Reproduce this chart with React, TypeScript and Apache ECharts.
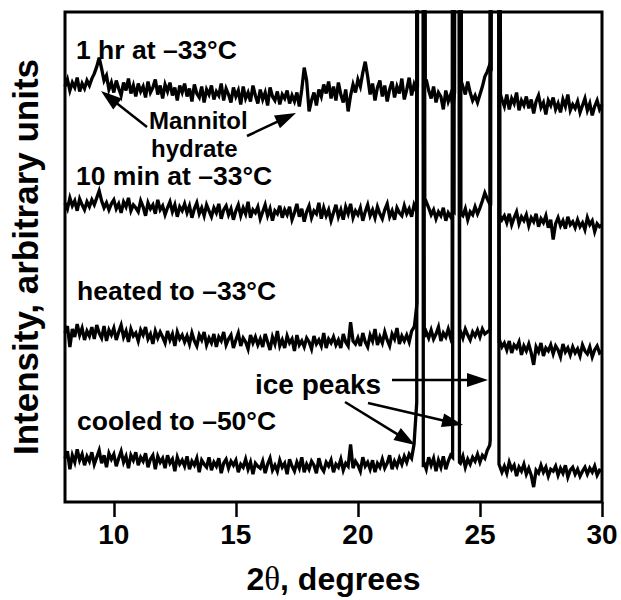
import React, { useEffect, useRef } from "react";
import * as echarts from "echarts";

// 2θ grid (degrees), one row per degree
const twoTheta = [
  8.0, 8.1, 8.2, 8.3, 8.4, 8.5, 8.6, 8.7, 8.8, 8.9,
  9.0, 9.1, 9.2, 9.3, 9.4, 9.5, 9.6, 9.7, 9.8, 9.9,
  10.0, 10.1, 10.2, 10.3, 10.4, 10.5, 10.6, 10.7, 10.8, 10.9,
  11.0, 11.1, 11.2, 11.3, 11.4, 11.5, 11.6, 11.7, 11.8, 11.9,
  12.0, 12.1, 12.2, 12.3, 12.4, 12.5, 12.6, 12.7, 12.8, 12.9,
  13.0, 13.1, 13.2, 13.3, 13.4, 13.5, 13.6, 13.7, 13.8, 13.9,
  14.0, 14.1, 14.2, 14.3, 14.4, 14.5, 14.6, 14.7, 14.8, 14.9,
  15.0, 15.1, 15.2, 15.3, 15.4, 15.5, 15.6, 15.7, 15.8, 15.9,
  16.0, 16.1, 16.2, 16.3, 16.4, 16.5, 16.6, 16.7, 16.8, 16.9,
  17.0, 17.1, 17.2, 17.3, 17.4, 17.5, 17.6, 17.7, 17.8, 17.9,
  18.0, 18.1, 18.2, 18.3, 18.4, 18.5, 18.6, 18.7, 18.8, 18.9,
  19.0, 19.1, 19.2, 19.3, 19.4, 19.5, 19.6, 19.7, 19.8, 19.9,
  20.0, 20.1, 20.2, 20.3, 20.4, 20.5, 20.6, 20.7, 20.8, 20.9,
  21.0, 21.1, 21.2, 21.3, 21.4, 21.5, 21.6, 21.7, 21.8, 21.9,
  22.0, 22.1, 22.2, 22.3, 22.4, 22.5, 22.6, 22.7, 22.8, 22.9,
  23.0, 23.1, 23.2, 23.3, 23.4, 23.5, 23.6, 23.7, 23.8, 23.9,
  24.0, 24.1, 24.2, 24.3, 24.4, 24.5, 24.6, 24.7, 24.8, 24.9,
  25.0, 25.1, 25.2, 25.3, 25.4, 25.5, 25.6, 25.7, 25.8, 25.9,
  26.0, 26.1, 26.2, 26.3, 26.4, 26.5, 26.6, 26.7, 26.8, 26.9,
  27.0, 27.1, 27.2, 27.3, 27.4, 27.5, 27.6, 27.7, 27.8, 27.9,
  28.0, 28.1, 28.2, 28.3, 28.4, 28.5, 28.6, 28.7, 28.8, 28.9,
  29.0, 29.1, 29.2, 29.3, 29.4, 29.5, 29.6, 29.7, 29.8, 29.9,
  30.0,
];

// Intensities (arbitrary units, traces offset vertically); null = inside an ice peak
const hr1 = [
  418, 425, 414, 422, 417, 427, 413, 421, 416, 424,
  419, 426, 431, 438, 447, 436, 424, 429, 415, 422,
  412, 424, 416, 409, 422, 414, 426, 411, 419, 408,
  421, 413, 418, 407, 423, 412, 417, 425, 410, 419,
  406, 420, 413, 422, 409, 417, 404, 419, 412, 421,
  408, 416, 403, 420, 411, 407, 418, 402, 415, 410,
  419, 405, 413, 409, 421, 404, 416, 410, 402, 417,
  408, 414, 400, 418, 406, 412, 403, 419, 409, 401,
  415, 405, 412, 399, 417, 408, 404, 413, 400, 410,
  406, 414, 401, 409, 403, 412, 398, 415, 437, 424,
  393, 404, 412, 399, 415, 408, 420, 411, 423, 406,
  418, 404, 422, 410, 402, 415, 393, 409, 420, 412,
  425, 418, 432, 443, 428, 410, 421, 404, 417, 424,
  408, 419, 403, 415, 423, 407, 418, 411, 426, 405,
  415, 427, 409, 420, 413, null, null, null, 425, 414,
  406, 418, 402, 412, 408, 395, 414, 403, 410, 398,
  null, null, null, 418, 410, 423, 412, 404, 409, 402,
  410, 418, 428, 433, 440, null, null, null, null, 405,
  398, 410, 395, 406, 401, 412, 394, 404, 399, 408,
  396, 405, 391, 403, 409, 397, 402, 390, 404, 399,
  407, 395, 401, 392, 405, 398, 410, 394, 400, 396,
  403, 392, 399, 406, 394, 401, 389, 398, 404, 395,
  400,
];
const min10 = [
  301, 295, 306, 298, 303, 293, 305, 299, 294, 302,
  297, 304, 299, 306, 313, 303, 296, 301, 294, 300,
  304, 295, 300, 291, 302, 297, 306, 293, 299, 296,
  292, 303, 297, 288, 301, 295, 299, 290, 304, 294,
  298, 289, 296, 302, 292, 299, 287, 297, 293, 300,
  291, 298, 286, 295, 301, 290, 296, 288, 299, 293,
  287, 296, 291, 300, 285, 294, 298, 289, 295, 284,
  293, 299, 288, 296, 290, 302, 286, 294, 291, 297,
  285, 292, 299, 288, 295, 283, 293, 290, 298, 286,
  294, 289, 297, 284, 291, 300, 287, 295, 282, 292,
  298, 286, 293, 290, 301, 285, 296, 288, 294, 283,
  291, 299, 287, 294, 284, 297, 290, 300, 286, 293,
  289, 296, 283, 292, 299, 288, 294, 286, 297, 290,
  285, 294, 300, 287, 293, 284, 296, 291, 288, 298,
  290, 295, 287, 299, 293, null, null, null, 302, 296,
  289, 294, 285, 292, 288, 296, 283, 291, 287, 293,
  null, null, null, 288, 295, 284, 292, 289, 297, 290,
  296, 303, 311, 305, 300, null, null, null, null, 284,
  288, 281, 290, 279, 286, 292, 280, 287, 283, 289,
  278, 286, 282, 290, 277, 285, 281, 288, 276, 284,
  264, 280, 286, 278, 283, 275, 287, 279, 282, 276,
  284, 277, 281, 274, 286, 279, 283, 272, 280, 277,
  279,
];
const heated = [
  170, 177, 156, 174, 166, 179, 168, 175, 163, 172,
  167, 176, 164, 178, 170, 165, 177, 162, 173, 168,
  175, 163, 171, 178, 166, 172, 161, 174, 167, 170,
  162, 173, 168, 176, 164, 169, 159, 172, 165, 171,
  166, 160, 172, 163, 169, 157, 171, 164, 168, 161,
  167, 159, 170, 162, 157, 168, 163, 171, 158, 165,
  160, 169, 156, 166, 162, 171, 158, 164, 168, 155,
  163, 170, 157, 165, 161, 154, 168, 160, 166, 158,
  164, 156, 169, 161, 153, 166, 159, 172, 157, 163,
  155, 167, 160, 164, 152, 168, 158, 162, 156, 165,
  161, 154, 167, 159, 163, 157, 170, 155, 164, 160,
  166, 158, 163, 155, 169, 161, 157, 181, 162, 159,
  165, 157, 170, 161, 156, 168, 162, 174, 158, 166,
  160, 171, 163, 157, 169, 164, 175, 159, 167, 162,
  168, 161, 172, 176, null, null, null, null, 171, 165,
  173, 164, 169, 176, 162, 170, 166, 174, 165, null,
  null, null, 172, 165, 174, 168, 163, 171, 167, 173,
  166, 174, 169, 171, 173, null, null, null, 163, 156,
  160, 153, 162, 150, 158, 155, 161, 148, 157, 152,
  159, 150, 138, 156, 151, 160, 147, 155, 152, 158,
  149, 157, 153, 146, 159, 151, 155, 148, 156, 150,
  154, 147, 158, 152, 149, 156, 146, 153, 157, 150,
  152,
];
const cooled = [
  44, 51, 33, 47, 40, 53, 42, 48, 37, 46,
  41, 50, 38, 45, 52, 39, 47, 35, 49, 43,
  48, 36, 44, 51, 40, 46, 34, 47, 42, 50,
  37, 45, 41, 49, 35, 43, 47, 33, 46, 40,
  44, 34, 47, 39, 43, 31, 45, 38, 42, 36,
  46, 33, 41, 37, 44, 30, 42, 38, 35, 45,
  32, 40, 36, 44, 29, 39, 43, 34, 41, 37,
  42, 30, 38, 35, 43, 33, 40, 28, 39, 36,
  34, 41, 29, 38, 44, 32, 37, 31, 42, 35,
  39, 28, 43, 36, 31, 40, 34, 45, 30, 38,
  33, 41, 37, 29, 44, 35, 31, 40, 36, 42,
  30, 38, 35, 43, 32, 39, 36, 58, 34, 41,
  37, 31, 45, 36, 40, 33, 42, 30, 39, 35,
  43, 34, 39, 47, 33, 41, 36, 44, 38, 46,
  40, 48, 44, 58, null, null, null, 40, 33, 45,
  37, 44, 31, 42, 35, 46, 33, 41, 47, null,
  null, null, 39, 46, 35, 43, 38, 45, 41, 48,
  40, 47, 44, 52, 57, null, null, null, 38, 30,
  36, 29, 40, 33, 37, 26, 35, 31, 38, 28,
  34, 27, 15, 32, 29, 37, 30, 35, 26, 33,
  31, 36, 27, 34, 29, 37, 25, 32, 35, 28,
  33, 26, 31, 35, 28, 34, 30, 36, 27, 32,
  31,
];

// Ice peaks ([2θ, intensity]); they run far off the top of the scale
const hr1Peaks = [
  [[22.44, 418], [22.52, 3000], [22.68, 3000], [22.76, 420]],
  [[23.96, 412], [24.03, 3000], [24.16, 3000], [24.24, 415]],
  [[25.46, 438], [25.53, 3000], [25.72, 3000], [25.84, 410]],
];
const min10Peaks = [
  [[22.41, 295], [22.49, 3000], [22.66, 3000], [22.74, 300]],
  [[23.94, 292], [24.0, 3000], [24.14, 3000], [24.22, 290]],
  [[25.44, 300], [25.5, 3000], [25.7, 3000], [25.82, 288]],
];
const heatedPeaks = [
  [[22.32, 178], [22.42, 200], [22.47, 3000], [22.63, 3000], [22.72, 166]],
  [[23.86, 170], [23.93, 3000], [24.1, 3000], [24.17, 168]],
  [[25.41, 175], [25.46, 3000], [25.72, 3000], [25.79, 160]],
];
const cooledPeaks = [
  [[22.32, 66], [22.41, 100], [22.46, 3000], [22.62, 3000], [22.68, 35]],
  [[23.88, 45], [23.94, 3000], [24.08, 3000], [24.16, 40]],
  [[25.42, 62], [25.47, 3000], [25.7, 3000], [25.78, 38]],
];

const xTicks = [10, 15, 20, 25, 30];

const traceLabels = [
  "1 hr at \u201333\u00b0C",
  "10 min at \u201333\u00b0C",
  "heated to \u201333\u00b0C",
  "cooled to \u201350\u00b0C",
];

function build(vals: (number | null)[], peaks: number[][][]) {
  const pts: number[][] = [];
  twoTheta.forEach((x, i) => {
    const v = vals[i];
    if (v === null || v === undefined) return;
    if (peaks.some((p) => x > p[0][0] && x < p[p.length - 1][0])) return;
    pts.push([x, v]);
  });
  peaks.forEach((p) => p.forEach((q) => pts.push(q)));
  pts.sort((a, b) => a[0] - b[0]);
  return pts;
}

const FONT = "Liberation Sans, Arial, Helvetica, sans-serif";

function arrow(x1: number, y1: number, x2: number, y2: number) {
  const dx = x2 - x1;
  const dy = y2 - y1;
  const len = Math.sqrt(dx * dx + dy * dy);
  const ux = dx / len;
  const uy = dy / len;
  const hl = 21;
  const hw = 7;
  const bx = x2 - ux * hl;
  const by = y2 - uy * hl;
  return [
    {
      type: "line",
      shape: { x1, y1, x2: bx + ux * 3, y2: by + uy * 3 },
      style: { stroke: "#000", lineWidth: 2.5 },
      silent: true,
      z: 100,
    },
    {
      type: "polygon",
      shape: {
        points: [
          [x2, y2],
          [bx - uy * hw, by + ux * hw],
          [bx + uy * hw, by - ux * hw],
        ],
      },
      style: { fill: "#000" },
      silent: true,
      z: 100,
    },
  ];
}

function label(text: string, x: number, y: number, size = 26.5) {
  return {
    type: "text",
    x,
    y,
    z: 100,
    silent: true,
    style: {
      text,
      fill: "#000",
      font: `bold ${size}px ${FONT}`,
      align: "left",
      verticalAlign: "middle",
    },
  };
}

export default function App() {
  const ref = useRef<HTMLDivElement>(null);
  useEffect(() => {
    if (!ref.current) return;
    const chart = echarts.init(ref.current, null, { renderer: "svg" });
    const seriesData = [
      { name: traceLabels[0], data: build(hr1, hr1Peaks) },
      { name: traceLabels[1], data: build(min10, min10Peaks) },
      { name: traceLabels[2], data: build(heated, heatedPeaks) },
      { name: traceLabels[3], data: build(cooled, cooledPeaks) },
    ];
    chart.setOption({
      animation: false,
      backgroundColor: "#fff",
      grid: {
        left: 62,
        right: 19,
        top: 12,
        bottom: 95,
        show: true,
        borderColor: "#000",
        borderWidth: 3,
        backgroundColor: "transparent",
        z: 10,
      },
      xAxis: {
        type: "value",
        min: 8,
        max: 30,
        name: "2{th|\u03b8}, degrees",
        nameLocation: "middle",
        nameGap: 60,
        nameTextStyle: {
          color: "#000",
          fontFamily: FONT,
          fontWeight: "bold",
          fontSize: 32,
          rich: {
            th: {
              fontFamily: "Liberation Serif, Times New Roman, serif",
              fontWeight: "normal",
              fontSize: 33,
              color: "#000",
            },
          },
        },
        axisLine: { show: false },
        axisTick: {
          show: true,
          inside: false,
          length: 15,
          lineStyle: { color: "#000", width: 2.5 },
          customValues: xTicks,
        },
        axisLabel: {
          color: "#000",
          fontFamily: FONT,
          fontWeight: "bold",
          fontSize: 28,
          margin: 18,
          customValues: xTicks,
        },
        splitLine: { show: false },
      },
      yAxis: {
        type: "value",
        min: 0,
        max: 493,
        name: "Intensity, arbitrary units",
        nameLocation: "middle",
        nameRotate: 90,
        nameGap: 22,
        nameTextStyle: {
          color: "#000",
          fontFamily: FONT,
          fontWeight: "bold",
          fontSize: 35,
        },
        axisLine: { show: false },
        axisTick: { show: false },
        axisLabel: { show: false },
        splitLine: { show: false },
      },
      series: seriesData.map((s) => ({
        type: "line",
        name: s.name,
        data: s.data,
        symbol: "none",
        clip: true,
        lineStyle: { color: "#000", width: 3.3, join: "miter" },
        z: 5,
      })),
      graphic: [
        label(traceLabels[0], 76, 50),
        label(traceLabels[1], 76, 176),
        label(traceLabels[2], 77, 291),
        label(traceLabels[3], 77, 421),
        label("Mannitol", 149, 120, 24),
        label("hydrate", 151, 148, 24),
        label("ice peaks", 255, 384, 28),
        ...arrow(147, 127, 101, 91),
        ...arrow(247, 136, 296, 113),
        ...arrow(392, 380, 488, 380),
        ...arrow(368, 403, 463, 425),
        ...arrow(345, 402, 415, 445),
      ],
    });
    return () => chart.dispose();
  }, []);
  return (
    <div
      ref={ref}
      style={{ position: "absolute", left: 0, top: 0, width: 621, height: 600 }}
    />
  );
}
